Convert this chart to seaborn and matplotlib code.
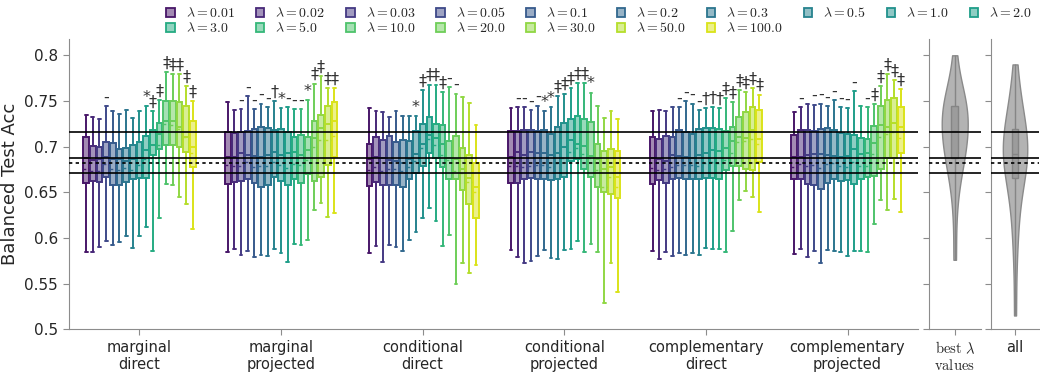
import numpy as np
import pandas as pd
import matplotlib.pyplot as plt
import matplotlib.ticker as mticker
from matplotlib.patches import Patch
import seaborn as sns

# lambda levels (hue) and the six method groups
lambdas = ["0.01", "0.02", "0.03", "0.05", "0.1", "0.2", "0.3", "0.5", "1.0", "2.0",
           "3.0", "5.0", "10.0", "20.0", "30.0", "50.0", "100.0"]
methods = ["marginal\ndirect", "marginal\nprojected", "conditional\ndirect",
           "conditional\nprojected", "complementary\ndirect", "complementary\nprojected"]

# five-number summaries, one row per method, one column per lambda
whisk_lo = [
    [0.585, 0.584, 0.590, 0.597, 0.592, 0.596, 0.602, 0.589, 0.602, 0.612, 0.586, 0.622, 0.659, 0.658, 0.645, 0.637, 0.610],
    [0.585, 0.588, 0.581, 0.586, 0.579, 0.581, 0.580, 0.588, 0.583, 0.574, 0.593, 0.592, 0.598, 0.631, 0.638, 0.623, 0.627],
    [0.583, 0.591, 0.574, 0.592, 0.590, 0.586, 0.598, 0.606, 0.622, 0.633, 0.618, 0.591, 0.603, 0.549, 0.573, 0.562, 0.570],
    [0.587, 0.579, 0.572, 0.575, 0.580, 0.587, 0.578, 0.577, 0.587, 0.588, 0.597, 0.585, 0.593, 0.585, 0.529, 0.573, 0.541],
    [0.586, 0.577, 0.585, 0.580, 0.583, 0.581, 0.583, 0.581, 0.589, 0.588, 0.588, 0.584, 0.608, 0.641, 0.651, 0.645, 0.628],
    [0.582, 0.588, 0.579, 0.586, 0.573, 0.587, 0.586, 0.585, 0.580, 0.586, 0.586, 0.585, 0.615, 0.642, 0.630, 0.643, 0.628],
]
quart_1 = [
    [0.660, 0.662, 0.661, 0.667, 0.658, 0.658, 0.661, 0.664, 0.666, 0.666, 0.691, 0.697, 0.702, 0.702, 0.700, 0.694, 0.678],
    [0.659, 0.661, 0.662, 0.664, 0.660, 0.656, 0.658, 0.667, 0.662, 0.658, 0.664, 0.660, 0.670, 0.662, 0.667, 0.680, 0.689],
    [0.657, 0.661, 0.658, 0.658, 0.658, 0.656, 0.664, 0.671, 0.679, 0.693, 0.687, 0.678, 0.664, 0.664, 0.652, 0.637, 0.622],
    [0.660, 0.660, 0.664, 0.666, 0.664, 0.664, 0.663, 0.664, 0.667, 0.684, 0.686, 0.676, 0.667, 0.656, 0.650, 0.648, 0.644],
    [0.659, 0.663, 0.660, 0.664, 0.666, 0.665, 0.665, 0.664, 0.666, 0.666, 0.664, 0.674, 0.679, 0.679, 0.675, 0.674, 0.683],
    [0.664, 0.664, 0.659, 0.658, 0.654, 0.660, 0.664, 0.662, 0.663, 0.659, 0.664, 0.667, 0.668, 0.676, 0.687, 0.687, 0.693],
]
medians = [
    [0.687, 0.685, 0.686, 0.689, 0.686, 0.686, 0.684, 0.686, 0.687, 0.696, 0.702, 0.714, 0.728, 0.728, 0.721, 0.711, 0.700],
    [0.689, 0.689, 0.693, 0.691, 0.690, 0.689, 0.691, 0.694, 0.691, 0.693, 0.694, 0.691, 0.696, 0.709, 0.720, 0.725, 0.728],
    [0.686, 0.689, 0.687, 0.685, 0.684, 0.682, 0.686, 0.692, 0.703, 0.713, 0.709, 0.703, 0.687, 0.686, 0.675, 0.666, 0.656],
    [0.689, 0.694, 0.691, 0.694, 0.693, 0.693, 0.691, 0.693, 0.700, 0.707, 0.703, 0.701, 0.690, 0.686, 0.676, 0.678, 0.667],
    [0.687, 0.686, 0.684, 0.691, 0.690, 0.689, 0.688, 0.691, 0.693, 0.696, 0.695, 0.699, 0.706, 0.711, 0.709, 0.718, 0.708],
    [0.689, 0.689, 0.691, 0.692, 0.692, 0.691, 0.690, 0.689, 0.690, 0.697, 0.692, 0.693, 0.704, 0.724, 0.722, 0.726, 0.721],
]
quart_3 = [
    [0.711, 0.701, 0.700, 0.705, 0.704, 0.697, 0.698, 0.702, 0.705, 0.712, 0.718, 0.726, 0.750, 0.750, 0.749, 0.744, 0.728],
    [0.716, 0.715, 0.716, 0.717, 0.719, 0.721, 0.720, 0.718, 0.719, 0.716, 0.711, 0.713, 0.711, 0.728, 0.735, 0.745, 0.749],
    [0.703, 0.710, 0.707, 0.712, 0.705, 0.707, 0.706, 0.717, 0.725, 0.732, 0.725, 0.724, 0.706, 0.712, 0.699, 0.691, 0.682],
    [0.717, 0.717, 0.718, 0.718, 0.717, 0.718, 0.714, 0.722, 0.726, 0.730, 0.734, 0.730, 0.727, 0.703, 0.695, 0.697, 0.695],
    [0.711, 0.708, 0.712, 0.710, 0.718, 0.716, 0.714, 0.719, 0.720, 0.720, 0.719, 0.717, 0.721, 0.732, 0.738, 0.743, 0.740],
    [0.713, 0.718, 0.718, 0.717, 0.719, 0.720, 0.718, 0.715, 0.714, 0.713, 0.709, 0.708, 0.723, 0.745, 0.751, 0.753, 0.743],
]
whisk_hi = [
    [0.735, 0.732, 0.730, 0.744, 0.739, 0.736, 0.740, 0.731, 0.739, 0.744, 0.739, 0.751, 0.782, 0.779, 0.779, 0.766, 0.750],
    [0.749, 0.740, 0.741, 0.755, 0.741, 0.747, 0.743, 0.750, 0.742, 0.743, 0.741, 0.741, 0.751, 0.769, 0.777, 0.764, 0.764],
    [0.742, 0.739, 0.738, 0.732, 0.739, 0.734, 0.733, 0.733, 0.762, 0.768, 0.768, 0.760, 0.765, 0.758, 0.754, 0.748, 0.724],
    [0.742, 0.743, 0.743, 0.740, 0.745, 0.739, 0.743, 0.755, 0.758, 0.764, 0.770, 0.770, 0.759, 0.744, 0.731, 0.739, 0.730],
    [0.739, 0.740, 0.739, 0.743, 0.743, 0.750, 0.747, 0.740, 0.742, 0.743, 0.742, 0.753, 0.749, 0.762, 0.760, 0.764, 0.757],
    [0.738, 0.743, 0.747, 0.746, 0.747, 0.744, 0.751, 0.743, 0.742, 0.761, 0.744, 0.743, 0.747, 0.766, 0.779, 0.773, 0.763],
]

# significance marks above each box ("" = none)
sig_marks = [
    ["", "", "", "-", "", "", "", "", "", "*", "‡", "‡", "‡", "‡", "‡", "‡", "‡"],
    ["", "", "-", "-", "-", "-", "-", "†", "*", "-", "-", "-", "*", "‡", "‡", "‡", "‡"],
    ["", "", "", "", "", "", "", "*", "‡", "‡", "‡", "‡", "-", "-", "", "", ""],
    ["", "-", "-", "-", "-", "*", "*", "‡", "‡", "‡", "‡", "‡", "*", "", "", "", ""],
    ["", "", "", "", "-", "-", "-", "-", "†", "†", "†", "‡", "‡", "‡", "‡", "‡", "‡"],
    ["", "-", "", "-", "-", "-", "-", "-", "-", "-", "", "-", "‡", "‡", "‡", "‡", "‡"],
]

# accuracies of the best lambda per run, and of all runs
best_lambda_acc = [0.576, 0.630, 0.660, 0.675, 0.683, 0.687, 0.695, 0.702, 0.708, 0.713, 0.717,
                   0.722, 0.728, 0.735, 0.741, 0.745, 0.747, 0.750, 0.755, 0.765, 0.800]
all_acc = [0.515, 0.575, 0.605, 0.625, 0.640, 0.655, 0.666, 0.672, 0.678, 0.683, 0.687, 0.690, 0.692,
           0.695, 0.699, 0.703, 0.708, 0.713, 0.719, 0.725, 0.732, 0.740, 0.750, 0.762, 0.790]

# baseline reference lines
ref_solid = [0.716, 0.688, 0.671]
ref_dotted = 0.682

sns.set_style("ticks", {"axes.edgecolor": ".55", "xtick.color": ".55", "ytick.color": ".55",
                        "text.color": ".15", "axes.labelcolor": ".15"})
plt.rcParams["mathtext.fontset"] = "cm"
plt.rcParams["font.family"] = ["DejaVu Sans"]

rows = []
for i, m in enumerate(methods):
    for j, lam in enumerate(lambdas):
        for stat in (whisk_lo, quart_1, medians, quart_3, whisk_hi):
            rows.append({"method": m, "lam": lam, "acc": stat[i][j]})
df = pd.DataFrame(rows)

palette = sns.color_palette("viridis", len(lambdas))
fill_alpha = 0.5

fig = plt.figure(figsize=(10.4, 3.81), dpi=100)
ax = fig.add_axes([0.066, 0.136, 0.817, 0.762])
ax2 = fig.add_axes([0.893, 0.136, 0.050, 0.762], sharey=ax)
ax3 = fig.add_axes([0.9525, 0.136, 0.047, 0.762], sharey=ax)

sns.boxplot(data=df, x="method", y="acc", hue="lam", hue_order=lambdas, palette=palette,
            saturation=1, whis=(0, 100), showfliers=False, showmeans=True, meanline=True,
            width=0.8, gap=0.15, linewidth=1.4, legend=False, ax=ax)

for k, cont in enumerate(ax.containers):
    c = palette[k]
    for box in cont.boxes:
        box.set_facecolor((*c, fill_alpha))
        box.set_edgecolor(c)
    for ln in list(cont.whiskers) + list(cont.caps) + list(cont.medians):
        ln.set_color(c)
    for ln in cont.means:
        ln.set_color(c)
        ln.set_linestyle((0, (2, 1.5)))
        ln.set_linewidth(1.0)
    for i, box in enumerate(cont.boxes):
        mark = sig_marks[i][k]
        if not mark:
            continue
        xs = box.get_path().vertices[:, 0]
        ax.annotate(mark, (0.5 * (xs.min() + xs.max()), whisk_hi[i][k]), xytext=(0, 1),
                    textcoords="offset points", ha="center", va="bottom", fontsize=11.5,
                    color=".2")

for a, vals in ((ax2, best_lambda_acc), (ax3, all_acc)):
    sns.violinplot(y=vals, ax=a, color="#b3b3b3", linecolor="#8a8a8a", linewidth=1,
                   saturation=1, inner=None, cut=0, width=0.5)
    sns.boxplot(y=vals, ax=a, color="#9c9c9c", linecolor="#858585", linewidth=1,
                saturation=1, width=0.14, whis=(0, 100), showcaps=False, showfliers=False)
    a.set_xlim(-0.5, 0.5)
    a.tick_params(labelleft=False)
    a.set_ylabel("")

for a in (ax, ax2, ax3):
    for v in ref_solid:
        a.axhline(v, color="k", lw=1.2, zorder=5)
    a.axhline(ref_dotted, color="k", lw=1.2, ls=(0, (2, 2)), zorder=5)
    sns.despine(ax=a)
    a.tick_params(labelsize=11, length=4, labelcolor=".15")

ax.set_ylim(0.5, 0.818)
ax.yaxis.set_major_locator(mticker.MultipleLocator(0.05))
ax.yaxis.set_major_formatter(mticker.FormatStrFormatter("%g"))
ax.set_xlabel("")
ax.set_ylabel("Balanced Test Acc", fontsize=13)
ax.tick_params(axis="x", labelsize=10.5)

ax2.set_xticks([0])
ax2.set_xticklabels([r"$\mathrm{best}\ \lambda$" + "\n" + r"$\mathrm{values}$"], fontsize=10.5)
ax3.set_xticks([0])
ax3.set_xticklabels(["all"], fontsize=10.5)

# legend laid out row by row (matplotlib fills columns first)
handles = [Patch(facecolor=(*c, fill_alpha), edgecolor=c, linewidth=1.3) for c in palette]
labels = [r"$\lambda = %s$" % lam for lam in lambdas]
order = []
for col in range(10):
    order.append(col)
    if col + 10 < len(lambdas):
        order.append(col + 10)
fig.legend([handles[o] for o in order], [labels[o] for o in order], ncol=10,
           loc="upper left", bbox_to_anchor=(0.152, 1.005), frameon=False, fontsize=10,
           handlelength=0.6, handleheight=0.6, handletextpad=0.8, columnspacing=1.5,
           labelspacing=0.05, borderaxespad=0.2)

fig.savefig("out.png", dpi=100)
